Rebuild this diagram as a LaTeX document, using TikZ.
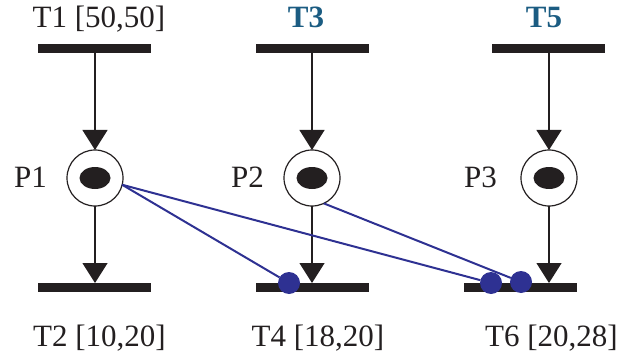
\documentclass[tikz,border=0pt]{standalone}
\usepackage{fontspec}
\setmainfont{Liberation Serif}
\usetikzlibrary{arrows.meta,shapes.geometric}
\definecolor{barblack}{HTML}{231F20}
\definecolor{inhib}{HTML}{2E3192}
\definecolor{tlabel}{HTML}{1B5C82}
\begin{document}
\begin{tikzpicture}[x=1pt,y=-1pt,
  font=\fontsize{31}{37}\selectfont,
  tbar/.style={rectangle,fill=barblack,draw=none,minimum width=113pt,minimum height=9pt,inner sep=0pt,outer sep=0pt},
  place/.style={circle,draw=barblack,line width=1.2pt,minimum size=56pt,inner sep=0pt,outer sep=0pt},
  token/.style={ellipse,fill=barblack,minimum width=31pt,minimum height=22pt,inner sep=0pt},
  arc/.style={draw=barblack,line width=1.3pt,-{Triangle[length=20pt,width=25pt]}},
  inhibline/.style={draw=inhib,line width=2pt},
  dot/.style={circle,fill=inhib,minimum size=22pt,inner sep=0pt,outer sep=0pt},
  lbl/.style={anchor=base,inner sep=0pt,text=barblack},
  blbl/.style={anchor=base,inner sep=0pt,text=tlabel,font=\fontsize{31}{37}\selectfont\bfseries},
  plbl/.style={anchor=base west,inner sep=0pt,text=barblack}]
\useasboundingbox (0,0) rectangle (620,358);

% transitions
\node[tbar] (t1) at (94.5,48.5) {};
\node[tbar] (t3) at (312.5,48.5) {};
\node[tbar] (t5) at (548.5,48.5) {};
\node[tbar] (t2) at (94.5,287.5) {};
\node[tbar] (t4) at (312.5,287.5) {};
\node[tbar] (t6) at (520.5,287.5) {};

% places with one token each
\node[place] (P1) at (95,178) {};
\node[place] (P2) at (312,178) {};
\node[place] (P3) at (549,178) {};
\node[token] (k1) at (P1.center) {};
\node[token] (k2) at (P2.center) {};
\node[token] (k3) at (P3.center) {};

% labels
\node[lbl] (l1) at (99,28) {T1 [50,50]};
\node[blbl] (l3) at (306,28) {T3};
\node[blbl] (l5) at (544,28) {T5};
\node[lbl] (l2) at (99.5,346) {T2 [10,20]};
\node[lbl] (l4) at (318,346) {T4 [18,20]};
\node[lbl] (l6) at (551.5,346) {T6 [20,28]};
\node[plbl] (p1l) at (14,187) {P1};
\node[plbl] (p2l) at (231,187) {P2};
\node[plbl] (p3l) at (464,187) {P3};

% ordinary arcs
\draw[arc] (P1.north |- t1.south) -- (P1.north);
\draw[arc] (P2.north |- t3.south) -- (P2.north);
\draw[arc] (P3.north |- t5.south) -- (P3.north);
\draw[arc] (P1.south) -- (P1.south |- t2.north);
\draw[arc] (P2.south) -- (P2.south |- t4.north);
\draw[arc] (P3.south) -- (P3.south |- t6.north);

% inhibitor arcs ending in filled dots on the transitions
\node[dot] (d1) at (289,283) {};
\node[dot] (d2) at (491,283) {};
\node[dot] (d3) at (521,282) {};
\draw[inhibline] (P1.-14) -- (d1);
\draw[inhibline] (P1.-14) -- (d2);
\draw[inhibline] (P2.-65) -- (d3);
\end{tikzpicture}
\end{document}
